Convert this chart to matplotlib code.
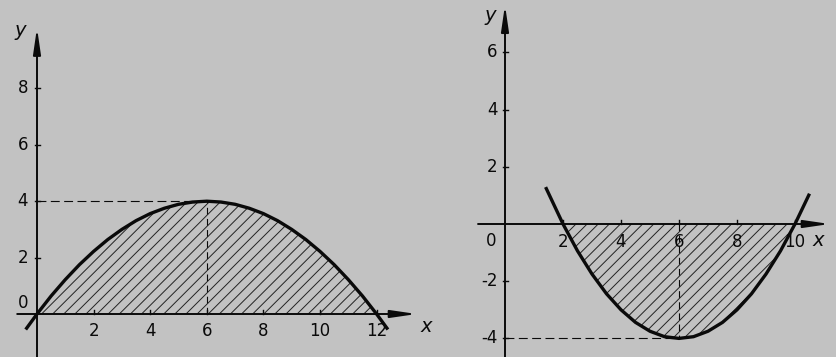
import numpy as np
import matplotlib
matplotlib.use('agg')
import matplotlib.pyplot as plt

plt.rcParams['font.family'] = ['Liberation Sans Narrow', 'DejaVu Sans']
plt.rcParams['hatch.linewidth'] = 0.7

# left panel: arch over the x axis
x_left = [-0.4, 0, 0.5, 1, 1.5, 2, 2.5, 3, 3.5, 4, 4.5, 5, 5.5, 6,
          6.5, 7, 7.5, 8, 8.5, 9, 9.5, 10, 10.5, 11, 11.5, 12, 12.4]
y_left = [-0.55, 0, 0.64, 1.22, 1.75, 2.22, 2.64, 3.0, 3.31, 3.56, 3.75, 3.89, 3.97, 4.0,
          3.97, 3.89, 3.75, 3.56, 3.31, 3.0, 2.64, 2.22, 1.75, 1.22, 0.64, 0, -0.55]
left_xticks = [2, 4, 6, 8, 10, 12]
left_yticks = [2, 4, 6, 8]
left_span = (0, 12)
left_peak = (6, 4)

# right panel: trough below the x axis
x_right = [1.4, 2, 2.5, 3, 3.5, 4, 4.5, 5, 5.5, 6,
           6.5, 7, 7.5, 8, 8.5, 9, 9.5, 10, 10.5]
y_right = [1.29, 0, -0.94, -1.75, -2.44, -3.0, -3.44, -3.75, -3.94, -4.0,
           -3.94, -3.75, -3.44, -3.0, -2.44, -1.75, -0.94, 0, 1.06]
right_xticks = [2, 4, 6, 8, 10]
right_yticks = [-4, -2, 2, 4, 6]
right_span = (2, 10)
right_peak = (6, -4)

bg = '#c2c2c2'
ink = '#0a0a0a'
fs = 12

fig = plt.figure(figsize=[8.37, 3.57], dpi=100, facecolor=bg)
axl = fig.add_axes([0, 0, 418/837, 1])
axr = fig.add_axes([418/837, 0, 419/837, 1])

def draw_panel(ax, xs, ys, span, peak, xticks, yticks, xlim, ylim,
               xaxis_ext, yaxis_ext, ylab_x):
    ax.set_xlim(*xlim)
    ax.set_ylim(*ylim)
    ax.axis('off')
    xs = np.array(xs)
    ys = np.array(ys)
    # axes with arrows
    arr = dict(arrowstyle='-|>,head_length=1.1,head_width=0.16', color=ink,
               lw=1.4, mutation_scale=14, shrinkA=0, shrinkB=0)
    ax.annotate('', xy=(xaxis_ext[1], 0), xytext=(xaxis_ext[0], 0), arrowprops=arr,
                annotation_clip=False)
    ax.annotate('', xy=(0, yaxis_ext[1]), xytext=(0, yaxis_ext[0]), arrowprops=arr,
                annotation_clip=False)
    # ticks
    for t in xticks:
        ax.plot([t, t], [0, 0.15], color=ink, lw=1.0)
    for t in yticks:
        ax.plot([-0.08, 0.12], [t, t], color=ink, lw=1.0)
    for t in xticks:
        ax.text(t, -0.62, str(t), ha='center', va='center', fontsize=fs, color=ink)
    for t in yticks:
        ax.text(ylab_x, t, str(t), ha='right', va='center', fontsize=fs, color=ink)
    # hatched area
    m = (xs >= span[0]) & (xs <= span[1])
    ax.fill_between(xs[m], ys[m], 0, facecolor='none', edgecolor='#222222',
                    hatch='///', linewidth=0)
    # dashed guides
    ax.plot([0, peak[0]], [peak[1], peak[1]], color=ink, lw=0.8, ls=(0, (8, 4)))
    ax.plot([peak[0], peak[0]], [0, peak[1]], color=ink, lw=0.8, ls=(0, (6, 4)))
    # curve
    ax.plot(xs, ys, color=ink, lw=2.4, solid_capstyle='butt')

draw_panel(axl, x_left, y_left, left_span, left_peak, left_xticks, left_yticks,
           (-37/28.3, 381/28.3), (-43/28.2, 314/28.2),
           (-0.7, 13.42), (-1.6, 10.15), -0.32)
axl.text(-0.5, 0.39, '0', ha='center', va='center', fontsize=fs, color=ink)
axl.text(-0.6, 10.05, 'y', ha='center', va='center', fontsize=fs + 2,
         style='italic', color=ink)
axl.text(13.75, -0.46, 'x', ha='center', va='center', fontsize=fs + 2,
         style='italic', color=ink, clip_on=False)

draw_panel(axr, x_right, y_right, right_span, right_peak, right_xticks, right_yticks,
           (-87/29, 332/29), (-133/28.6, 224/28.6),
           (-0.93, 11.2), (-4.7, 7.66), -0.25)
axr.text(-0.48, -0.6, '0', ha='center', va='center', fontsize=fs, color=ink)
axr.text(-0.52, 7.3, 'y', ha='center', va='center', fontsize=fs + 2,
         style='italic', color=ink)
axr.text(10.8, -0.56, 'x', ha='center', va='center', fontsize=fs + 2,
         style='italic', color=ink)

plt.savefig('out.png', format='png', dpi=100, facecolor=bg)
plt.close(fig)
